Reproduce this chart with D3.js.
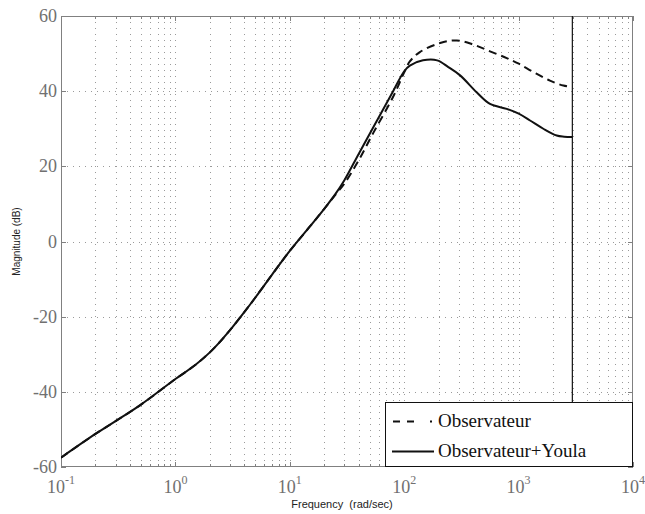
<!DOCTYPE html>
<html><head><meta charset="utf-8">
<script src="https://cdn.jsdelivr.net/npm/d3@7/dist/d3.min.js"></script>
<style>body{margin:0;background:#fff}</style>
</head><body><svg id="c" width="645" height="514"></svg>
<script>
// ---- data ----
const freqObs = [0.1,0.2,0.3,0.5,1,1.5,2,2.5,3,4,5,7,10,15,20,25,30,40,53.7,80,100,112,137,206,288,402,562,787,1002,1343,1879,2460,2950];
const magObs  = [-57.5,-51.2,-47.8,-43.4,-36.6,-32.8,-29.5,-26.4,-23.6,-18.8,-14.9,-8.8,-2.5,4.0,8.7,12.4,15.4,21.6,28.9,38.5,45.0,47.9,50.4,52.8,53.5,52.4,50.6,48.8,47.3,45.1,42.8,41.5,41.1];
const freqYoula = [0.1,0.2,0.3,0.5,1,1.5,2,2.5,3,4,5,7,10,15,20,25,30,40,53.7,80,100,112,146,194,243,308,430,562,787,1002,1259,1645,2153,2500,2950];
const magYoula  = [-57.5,-51.2,-47.8,-43.4,-36.6,-32.8,-29.5,-26.4,-23.6,-18.8,-14.9,-8.8,-2.5,4.0,8.7,12.6,16.3,23.3,30.4,40,45.3,46.8,48.2,48.2,46.4,44.2,39.7,36.6,35.3,34.0,32.2,30.0,28.2,27.9,27.8];
const endFreq = 2950;
const yTicks = [-60,-40,-20,0,20,40,60];
const xDecades = [-1,0,1,2,3,4];
const legendLabels = ["Observateur","Observateur+Youla"];
const xLabel = "Frequency  (rad/sec)";
const yLabel = "Magnitude (dB)";

// ---- layout ----
const L=61, R=633, T=16, B=467;
const svg = d3.select("#c");
const x = d3.scaleLog().domain([0.1,10000]).range([L,R]);
const y = d3.scaleLinear().domain([-60,60]).range([B,T]);

const gridColor="#9a9a9a", axisColor="#808080", labColor="#707070";

// minor values
const minors=[];
for(let d=-1; d<4; d++) for(let m=1;m<10;m++) minors.push(m*Math.pow(10,d));
minors.push(10000);

// grid
const g = svg.append("g");
g.selectAll(".vg").data(minors.filter(v=>v>0.1&&v<10000)).enter().append("line")
 .attr("x1",d=>Math.round(x(d))+0.5).attr("x2",d=>Math.round(x(d))+0.5).attr("y1",T).attr("y2",B)
 .attr("stroke",gridColor).attr("stroke-width",1).attr("stroke-dasharray","1,5");
g.selectAll(".hg").data(yTicks.filter(v=>v>-60&&v<60)).enter().append("line")
 .attr("x1",L).attr("x2",R).attr("y1",d=>Math.round(y(d))+0.5).attr("y2",d=>Math.round(y(d))+0.5)
 .attr("stroke",gridColor).attr("stroke-width",1).attr("stroke-dasharray","1,5");

// frame
svg.append("rect").attr("x",L+0.5).attr("y",T+0.5).attr("width",R-L-1).attr("height",B-T-1)
 .attr("fill","none").attr("stroke",axisColor).attr("stroke-width",1);

// ticks
const tk = svg.append("g").attr("stroke",axisColor).attr("stroke-width",1);
yTicks.forEach(v=>{
  const yy=Math.round(y(v))+0.5;
  tk.append("line").attr("x1",L).attr("x2",L+5).attr("y1",yy).attr("y2",yy);
  tk.append("line").attr("x1",R-5).attr("x2",R).attr("y1",yy).attr("y2",yy);
});
minors.forEach(v=>{
  const xx=Math.round(x(v))+0.5;
  const isMajor = Math.abs(Math.log10(v)-Math.round(Math.log10(v)))<1e-9;
  const len = isMajor?5:3;
  tk.append("line").attr("x1",xx).attr("x2",xx).attr("y1",B).attr("y2",B-len);
  tk.append("line").attr("x1",xx).attr("x2",xx).attr("y1",T).attr("y2",T+len);
});

// y tick labels
svg.selectAll(".yl").data(yTicks).enter().append("text")
 .attr("x",L-4).attr("y",d=>y(d)+6).attr("text-anchor","end")
 .attr("font-family","Liberation Serif, serif").attr("font-size",18).attr("fill",labColor)
 .text(d=>d);

// x tick labels
xDecades.forEach(e=>{
  const t = svg.append("text").attr("x",x(Math.pow(10,e))).attr("y",493).attr("text-anchor","middle")
   .attr("font-family","Liberation Serif, serif").attr("font-size",18).attr("fill",labColor);
  t.append("tspan").text("10");
  t.append("tspan").attr("font-size",12).attr("dy",-9).text(e);
});

// axis labels
svg.append("text").attr("x",(L+R)/2-5).attr("y",508).attr("text-anchor","middle")
 .attr("font-family","Liberation Sans, Arial, sans-serif").attr("font-size",11).attr("fill","#222")
 .style("white-space","pre").text(xLabel);
svg.append("text").attr("transform",`translate(20,${(T+B)/2}) rotate(-90)`).attr("text-anchor","middle")
 .attr("font-family","Liberation Sans, Arial, sans-serif").attr("font-size",10).attr("fill","#222")
 .text(yLabel);

// clip
svg.append("clipPath").attr("id","clip").append("rect").attr("x",L).attr("y",T).attr("width",R-L).attr("height",B-T);
const plot = svg.append("g").attr("clip-path","url(#clip)");

const line = d3.line().x(d=>x(d[0])).y(d=>y(d[1])).curve(d3.curveCatmullRom.alpha(0.5));
const obs = freqObs.map((f,i)=>[f,magObs[i]]);
const you = freqYoula.map((f,i)=>[f,magYoula[i]]);

plot.append("path").attr("d",line(obs)).attr("fill","none").attr("stroke","#111")
 .attr("stroke-width",2).attr("stroke-dasharray","8,5");
plot.append("path").attr("d",line(you)).attr("fill","none").attr("stroke","#111")
 .attr("stroke-width",2);
plot.append("line").attr("x1",x(endFreq)).attr("x2",x(endFreq)).attr("y1",y(60)).attr("y2",y(-60))
 .attr("stroke","#111").attr("stroke-width",1.2);

// legend
const lg = svg.append("g");
lg.append("rect").attr("x",385.5).attr("y",402.5).attr("width",247).attr("height",64)
 .attr("fill","#fff").attr("stroke","#111").attr("stroke-width",1);
lg.append("line").attr("x1",393).attr("x2",434).attr("y1",421.5).attr("y2",421.5)
 .attr("stroke","#111").attr("stroke-width",2).attr("stroke-dasharray","7,7,7,16,2,10");
lg.append("line").attr("x1",392).attr("x2",434).attr("y1",451.5).attr("y2",451.5)
 .attr("stroke","#111").attr("stroke-width",2);
legendLabels.forEach((s,i)=>{
  lg.append("text").attr("x",438).attr("y",427+i*30).attr("font-family","Liberation Serif, serif")
   .attr("font-size",19).attr("fill","#111").text(s);
});
</script></body></html>
